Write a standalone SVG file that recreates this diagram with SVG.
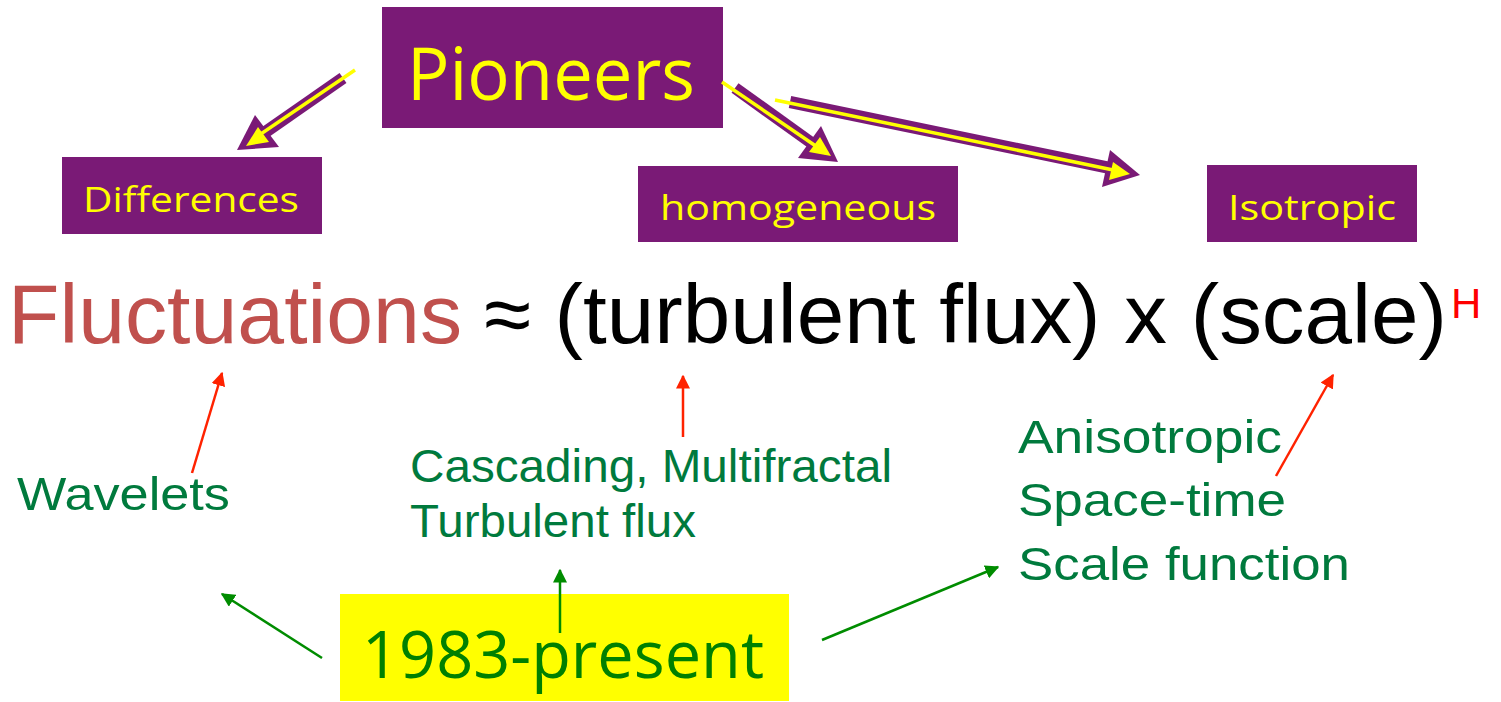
<svg xmlns="http://www.w3.org/2000/svg" width="1501" height="702" viewBox="0 0 1501 702">
<style>
.box{fill:#7a1a76}
.bt{font-family:"Open Sans",sans-serif;fill:#ffff00}
.ar{font-family:"Liberation Sans",Arial,sans-serif}
.g{fill:#007a3d;font-family:"Liberation Sans",Arial,sans-serif;font-size:46px}
.pl{stroke:#7a1a76;stroke-width:12;fill:none}
.yl{stroke:#ffff00;stroke-width:3.5;fill:none}
.red{stroke:#ff2200;stroke-width:2.5;fill:none}
.grn{stroke:#008c00;stroke-width:2.5;fill:none}
</style>
<defs>
<marker id="rh" viewBox="0 0 10 10" refX="9" refY="5" markerWidth="14" markerHeight="14" markerUnits="userSpaceOnUse" orient="auto"><path d="M0,0 L10,5 L0,10 z" fill="#ff2200"/></marker>
<marker id="gh" viewBox="0 0 10 10" refX="9" refY="5" markerWidth="14" markerHeight="14" markerUnits="userSpaceOnUse" orient="auto"><path d="M0,0 L10,5 L0,10 z" fill="#008c00"/></marker>
</defs>
<rect width="1501" height="702" fill="#ffffff"/>
<g id="pioneers"><rect class="box" x="382" y="7" width="341" height="121"/><text class="bt" x="407" y="100" font-size="74" textLength="288" lengthAdjust="spacingAndGlyphs">Pioneers</text></g>
<g id="differences"><rect class="box" x="62" y="157" width="260" height="77"/><text class="bt" x="83" y="212" font-size="35" textLength="216" lengthAdjust="spacingAndGlyphs">Differences</text></g>
<g id="homogeneous"><rect class="box" x="638" y="166" width="320" height="76"/><text class="bt" x="660" y="220" font-size="35" textLength="276" lengthAdjust="spacingAndGlyphs">homogeneous</text></g>
<g id="isotropic"><rect class="box" x="1207" y="165" width="210" height="77"/><text class="bt" x="1228" y="220" font-size="35" textLength="168" lengthAdjust="spacingAndGlyphs">Isotropic</text></g>
<g id="formula">
<text class="ar" x="8" y="343" font-size="84" fill="#c0504d" textLength="454" lengthAdjust="spacingAndGlyphs">Fluctuations</text>
<text class="ar" x="484" y="343" font-size="84" fill="#000000" textLength="963" lengthAdjust="spacingAndGlyphs">≈ (turbulent flux) x (scale)</text>
<text class="ar" x="1451" y="318" font-size="42" fill="#ff0000">H</text>
</g>
<g id="wavelets"><text class="g" x="17" y="510" textLength="213" lengthAdjust="spacingAndGlyphs">Wavelets</text></g>
<g id="cascading"><text class="g" x="410" y="482" textLength="482" lengthAdjust="spacingAndGlyphs">Cascading, Multifractal</text><text class="g" x="410" y="537" textLength="286" lengthAdjust="spacingAndGlyphs">Turbulent flux</text></g>
<g id="anisotropic"><text class="g" x="1018" y="453" textLength="264" lengthAdjust="spacingAndGlyphs">Anisotropic</text><text class="g" x="1018" y="516" textLength="268" lengthAdjust="spacingAndGlyphs">Space-time</text><text class="g" x="1018" y="580" textLength="332" lengthAdjust="spacingAndGlyphs">Scale function</text></g>
<g id="present"><rect x="340" y="594" width="449" height="107" fill="#ffff00"/><text x="362" y="678" font-family="Open Sans,sans-serif" font-size="66" fill="#008000" textLength="402" lengthAdjust="spacingAndGlyphs">1983-present</text></g>
<g id="connectors">
<line class="pl" x1="343" y1="78" x2="264" y2="133"/>
<path d="M255,115 L279,147 L237,150 z" fill="#7a1a76"/>
<line class="yl" x1="355" y1="70" x2="252" y2="140"/>
<path d="M258,127 L269,142 L246,146 z" fill="#ffff00"/>
<line class="pl" x1="735" y1="88" x2="813" y2="144"/>
<path d="M821,126 L798,158 L838,162 z" fill="#7a1a76"/>
<line class="yl" x1="722" y1="82" x2="826" y2="153"/>
<path d="M820,137 L809,152 L831,156 z" fill="#ffff00"/>
<line class="pl" x1="790" y1="102" x2="1110" y2="168"/>
<path d="M1110,150 L1102,187 L1140,175 z" fill="#7a1a76"/>
<line class="yl" x1="775" y1="100" x2="1118" y2="171"/>
<path d="M1113,162 L1109,180 L1130,174 z" fill="#ffff00"/>
<line class="red" x1="192" y1="473" x2="222" y2="373" marker-end="url(#rh)"/>
<line class="red" x1="683" y1="437" x2="683" y2="376" marker-end="url(#rh)"/>
<line class="red" x1="1276" y1="476" x2="1333" y2="375" marker-end="url(#rh)"/>
<line class="grn" x1="322" y1="658" x2="222" y2="594" marker-end="url(#gh)"/>
<line class="grn" x1="560" y1="633" x2="560" y2="570" marker-end="url(#gh)"/>
<line class="grn" x1="822" y1="640" x2="998" y2="567" marker-end="url(#gh)"/>
</g>
</svg>
